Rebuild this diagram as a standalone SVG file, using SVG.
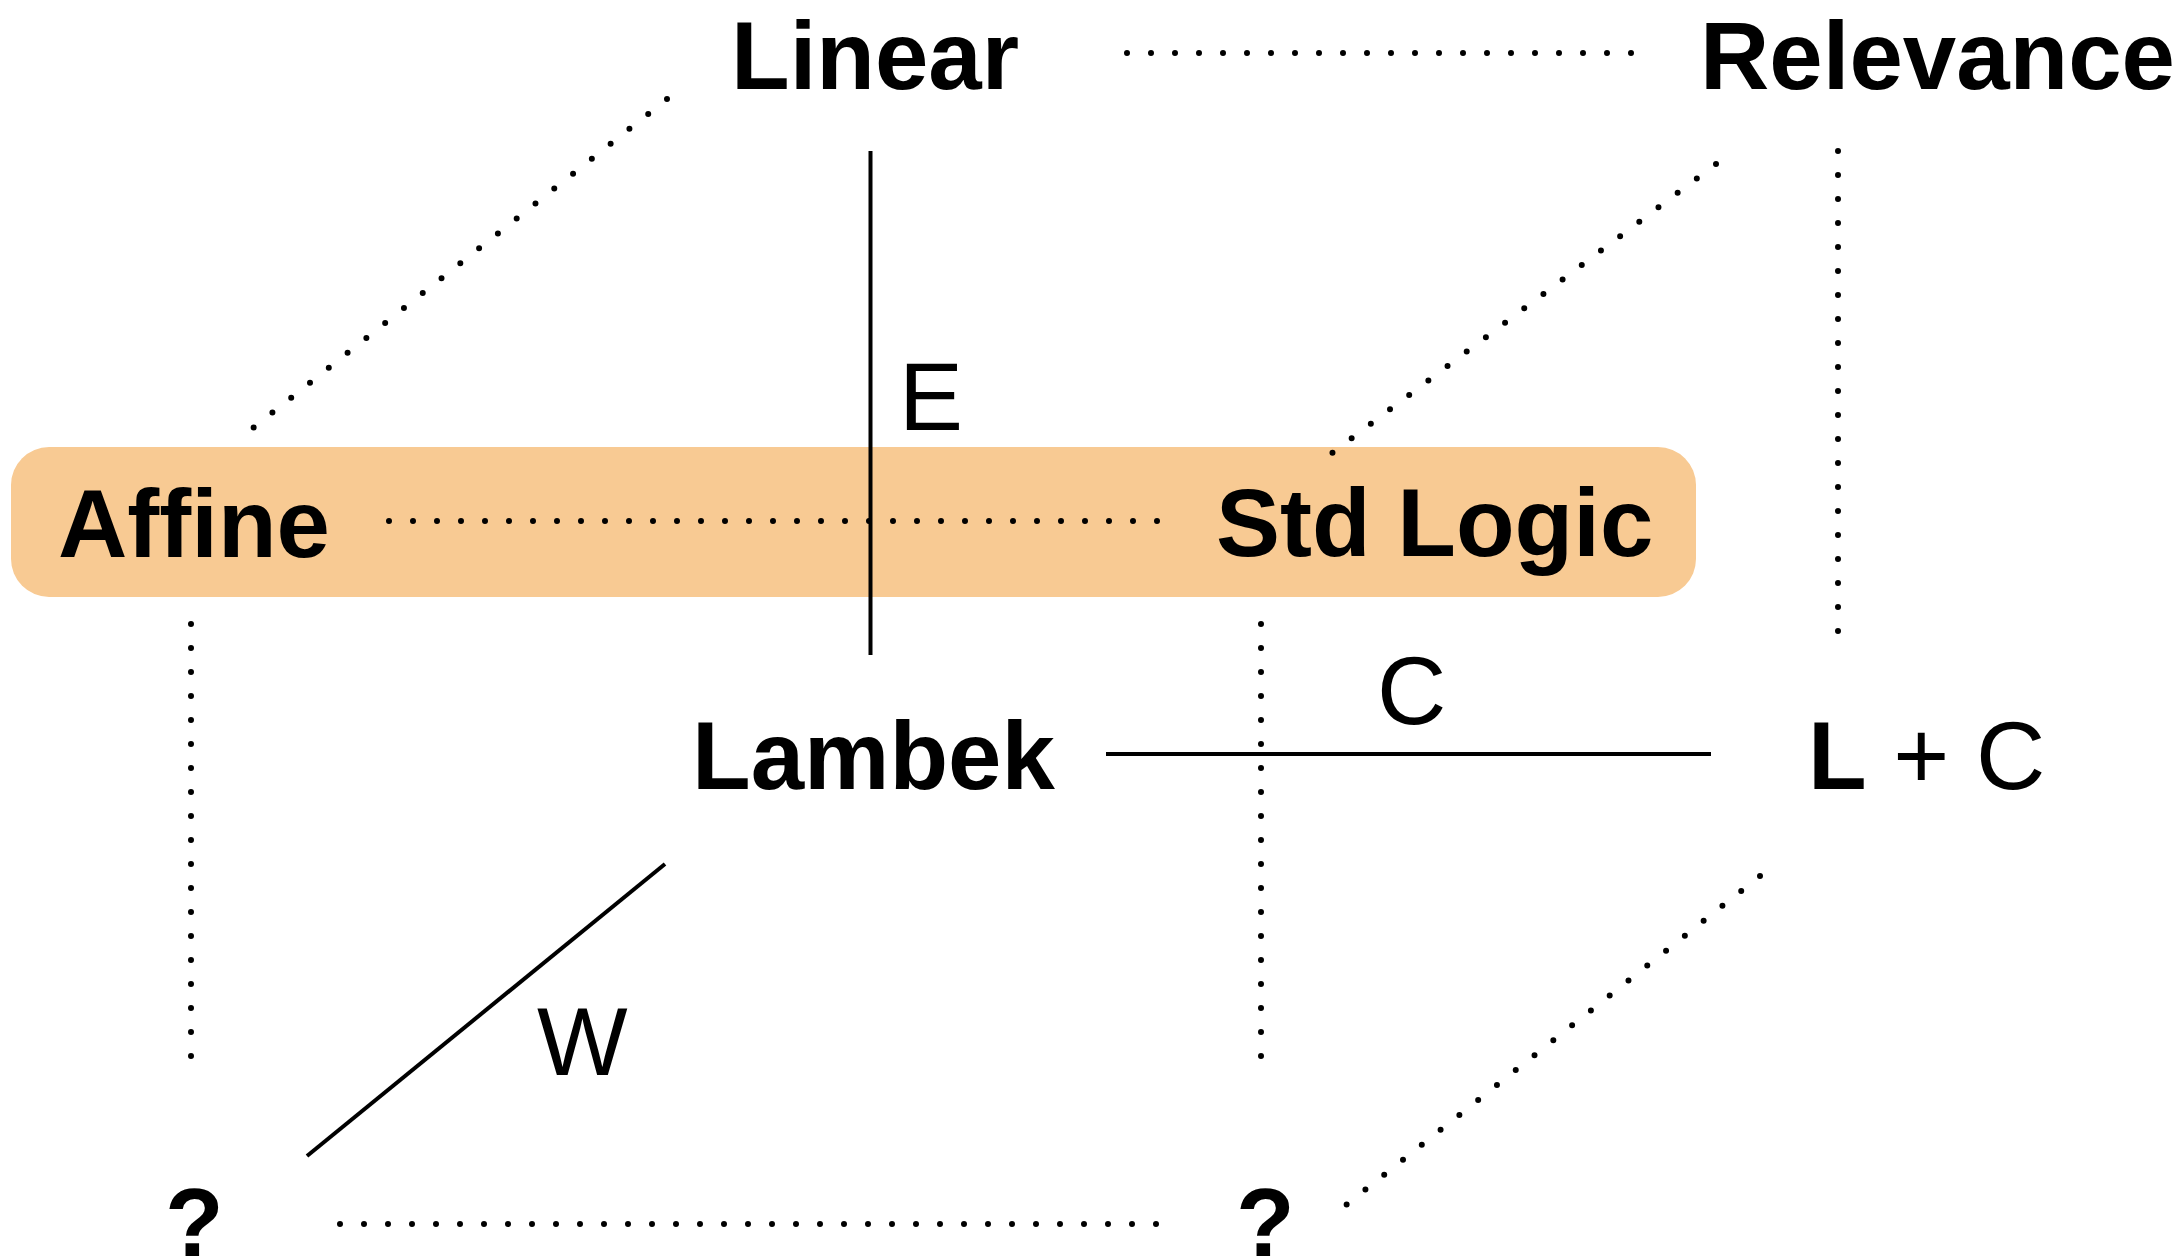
<svg xmlns="http://www.w3.org/2000/svg" width="2176" height="1260" viewBox="0 0 2176 1260">
<style>
.node{font-family:"Liberation Sans",Arial,Helvetica,sans-serif;font-weight:bold;font-size:96px;fill:#000}
.lbl{font-family:"Liberation Sans",Arial,Helvetica,sans-serif;font-weight:300;font-size:96px;fill:#000}
.dot{stroke:#000;stroke-width:6;stroke-linecap:round;stroke-dasharray:0 24;fill:none}
.solid{stroke:#000;stroke-width:4;fill:none}
</style>
<rect id="highlight" x="11" y="447" width="1685" height="150" rx="38" ry="38" fill="#F8CA93"/>
<g id="connectors">
<line class="dot" x1="1127" y1="53" x2="1632" y2="53"/>
<line class="dot" x1="667" y1="99" x2="253" y2="428"/>
<line class="dot" x1="1716" y1="164" x2="1332" y2="453"/>
<line class="dot" x1="1838" y1="151" x2="1838" y2="633"/>
<line class="dot" x1="389" y1="521" x2="1163" y2="521"/>
<line class="dot" x1="191" y1="624" x2="191" y2="1080"/>
<line class="dot" x1="1261" y1="624" x2="1261" y2="1080"/>
<line class="dot" x1="340" y1="1224" x2="1160" y2="1224"/>
<line class="dot" x1="1760" y1="876" x2="1346" y2="1205"/>
<line class="solid" x1="870.5" y1="151" x2="870.5" y2="655"/>
<line class="solid" x1="1106" y1="754" x2="1711" y2="754"/>
<line class="solid" x1="665" y1="864" x2="307" y2="1156"/>
<text class="lbl" x="899" y="430">E</text>
<text class="lbl" x="1377" y="724">C</text>
<text class="lbl" x="537" y="1075">W</text>
</g>
<g id="linear"><text class="node" x="731" y="89">Linear</text></g>
<g id="relevance"><text class="node" x="1700" y="89">Relevance</text></g>
<g id="affine"><text class="node" x="58" y="557">Affine</text></g>
<g id="stdlogic"><text class="node" x="1216" y="556">Std Logic</text></g>
<g id="lambek"><text class="node" x="692" y="789">Lambek</text></g>
<g id="lc"><text class="node" x="1808" y="789">L<tspan class="lbl" font-weight="300"> + C</tspan></text></g>
<g id="q1"><text class="node" x="165" y="1256">?</text></g>
<g id="q2"><text class="node" x="1236" y="1256">?</text></g>
</svg>
